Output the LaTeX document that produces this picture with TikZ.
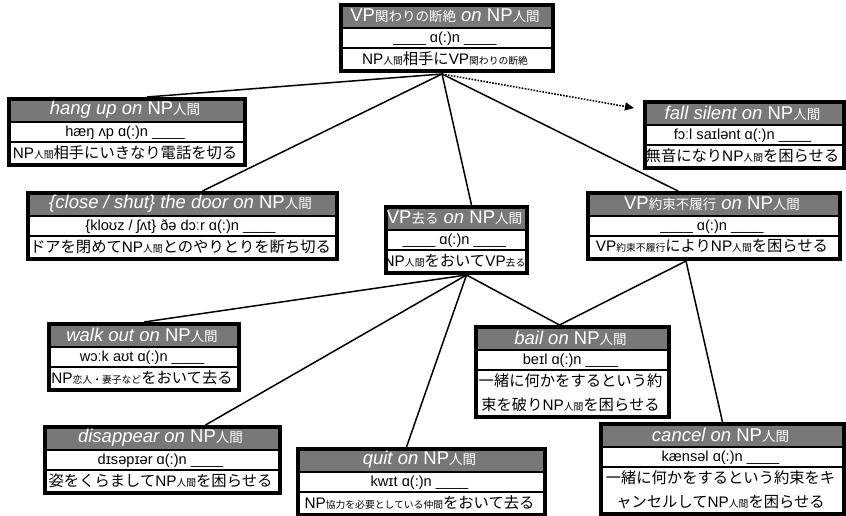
\documentclass[tikz,border=0pt]{standalone}
\usepackage{fontspec}
\setmainfont{Liberation Sans}
\newfontfamily\cjk{Noto Sans CJK JP}
\usetikzlibrary{arrows.meta,calc}

\definecolor{hdrgray}{RGB}{120,120,120}

% Japanese text at the current size, and the small subscript-like glosses
\newcommand\jp[1]{{\cjk #1}}
\newcommand\sm[1]{{\cjk\fontsize{9.8}{10}\selectfont #1}}
\newcommand\hsm[1]{{\cjk\fontsize{13.5}{14}\selectfont #1}}
\newcommand\blank{\_\_\_\_}

\tikzset{
  frame/.style={draw=black, line width=4pt, inner sep=0pt, rectangle},
  rowsep/.style={line width=2pt},
  headtext/.style={text=white, font=\fontsize{18.5}{20}\selectfont, inner sep=0pt},
  pron/.style={font=\fontsize{14.6}{16}\selectfont, inner sep=0pt},
  gloss/.style={font=\fontsize{15.3}{24}\selectfont, inner sep=0pt, align=center},
  link/.style={line width=1.5pt},
  hint/.style={line width=1.6pt, dash pattern=on 1.6pt off 1.4pt, -{Triangle[length=9pt,width=8pt]}},
}

% \phrasebox{name}{left}{top}{width}{gloss row height}{header}{pronunciation}{gloss}
\newcommand\phrasebox[8]{%
  \pgfmathsetmacro\pbh{45+#5}%
  \fill[hdrgray] (#2,#3) rectangle ++(#4,25);
  \draw[rowsep] (#2,#3+25) -- ++(#4,0);
  \draw[rowsep] (#2,#3+45) -- ++(#4,0);
  \node[frame, minimum width=#4pt, minimum height=\pbh pt, anchor=north west] (#1) at (#2,#3) {};
  \node[headtext] at (#2+#4/2,#3+13) {#6};
  \node[pron] at (#2+#4/2,#3+35.5) {#7};
  \node[gloss] at (#2+#4/2,#3+45+#5/2) {#8};
}

\begin{document}
\begin{tikzpicture}[x=1pt,y=-1pt]
\fill[white] (0,0) rectangle (846,516);
\useasboundingbox (0,0) rectangle (846,516);

\phrasebox{top}{339}{3}{212}{21}
  {VP\hsm{関わりの断絶} \textit{on} NP\hsm{人間}}
  {\blank{} ɑ(:)n \blank}
  {NP\sm{人間}\jp{相手に}VP\sm{関わりの断絶}}

\phrasebox{hang}{7}{97}{236}{21}
  {\textit{hang up on} NP\hsm{人間}}
  {hæŋ ʌp ɑ(:)n \blank}
  {NP\sm{人間}\jp{相手にいきなり電話を切る}}

\phrasebox{fall}{643}{100}{199}{21}
  {\textit{fall silent on} NP\hsm{人間}}
  {fɔːl saɪlənt ɑ(:)n \blank}
  {\jp{無音になり}NP\sm{人間}\jp{を困らせる}}

\phrasebox{close}{26}{191}{309}{21}
  {\textit{\{close / shut\} the door on} NP\hsm{人間}}
  {\{kloʊz / ʃʌt\} ðə dɔːr ɑ(:)n \blank}
  {\jp{ドアを閉めて}NP\sm{人間}\jp{とのやりとりを断ち切る}}

\phrasebox{saru}{384}{205}{141}{21}
  {VP\hsm{去る} \textit{on} NP\hsm{人間}}
  {\blank{} ɑ(:)n \blank}
  {NP\sm{人間}\jp{をおいて}VP\sm{去る}}

\phrasebox{yaku}{586}{191}{252}{21}
  {VP\hsm{約束不履行} \textit{on} NP\hsm{人間}}
  {\blank{} ɑ(:)n \blank}
  {VP\sm{約束不履行}\jp{により}NP\sm{人間}\jp{を困らせる}}

\phrasebox{walk}{47}{322}{190}{21}
  {\textit{walk out on} NP\hsm{人間}}
  {wɔːk aʊt ɑ(:)n \blank}
  {NP\sm{恋人・妻子など}\jp{をおいて去る}}

\phrasebox{bail}{474}{325}{193}{45}
  {\textit{bail on} NP\hsm{人間}}
  {beɪl ɑ(:)n \blank}
  {\jp{一緒に何かをするという約}\\\jp{束を破り}NP\sm{人間}\jp{を困らせる}}

\phrasebox{disap}{43}{425}{235}{21}
  {\textit{disappear on} NP\hsm{人間}}
  {dɪsəpɪər ɑ(:)n \blank}
  {\jp{姿をくらまして}NP\sm{人間}\jp{を困らせる}}

\phrasebox{quit}{296}{447}{247}{21}
  {\textit{quit on} NP\hsm{人間}}
  {kwɪt ɑ(:)n \blank}
  {NP\sm{協力を必要としている仲間}\jp{をおいて去る}}

\phrasebox{cancel}{599}{422}{243}{45}
  {\textit{cancel on} NP\hsm{人間}}
  {kænsəl ɑ(:)n \blank}
  {\jp{一緒に何かをするという約束をキ}\\\jp{ャンセルして}NP\sm{人間}\jp{を困らせる}}

% branching points under the parent boxes
\coordinate (tophub) at ([xshift=-5pt,yshift=-1pt]top.south);
\coordinate (saruhub) at ([xshift=10pt]saru.south);
\coordinate (yakuhub) at ([xshift=-28pt]yaku.south);

\draw[link] (tophub) -- ([xshift=20pt]hang.north);
\draw[link] (tophub) -- ([xshift=20pt]close.north);
\draw[link] (tophub) -- ([xshift=15pt]saru.north);
\draw[link] (tophub) -- ([xshift=-36pt]yaku.north);
\draw[hint] (tophub) -- ([xshift=-9pt,yshift=-8pt]fall.north west);

\draw[link] (saruhub) -- (walk.north);
\draw[link] (saruhub) -- ([xshift=43pt]disap.north);
\draw[link] (saruhub) -- ([xshift=-15pt]quit.north);
\draw[link] (saruhub) -- ([xshift=-13pt]bail.north);

\draw[link] (yakuhub) -- ([xshift=-13pt]bail.north);
\draw[link] (yakuhub) -- (cancel.north);
\end{tikzpicture}
\end{document}
